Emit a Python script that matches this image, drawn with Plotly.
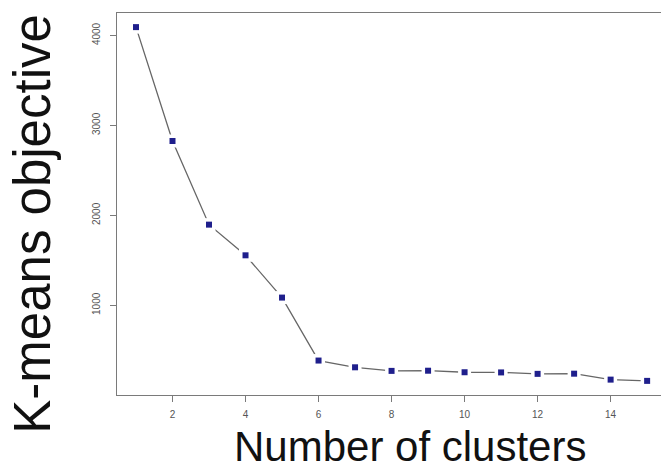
import plotly.graph_objects as go

clusters = [1, 2, 3, 4, 5, 6, 7, 8, 9, 10, 11, 12, 13, 14, 15]
objective = [4093, 2827, 1897, 1556, 1086, 386, 311, 271, 273, 256, 254, 238, 240, 174, 160]
x_ticks = [2, 4, 6, 8, 10, 12, 14]
y_ticks = [1000, 2000, 3000, 4000]

fig = go.Figure()
fig.add_trace(go.Scatter(x=clusters, y=objective, mode="lines",
                         line=dict(color="#666666", width=1.3), hoverinfo="skip"))
fig.add_trace(go.Scatter(x=clusters, y=objective, mode="markers",
                         marker=dict(symbol="square", size=13, color="white"), hoverinfo="skip"))
fig.add_trace(go.Scatter(x=clusters, y=objective, mode="markers",
                         marker=dict(symbol="square", size=6, color="#1f1f8c")))

axis_common = dict(showgrid=False, zeroline=False, showline=True, linecolor="#7a7a7a",
                   linewidth=1, ticks="outside", ticklen=6, tickcolor="#7a7a7a",
                   tickfont=dict(family="Liberation Sans, Arial", size=10, color="#555555"))

fig.update_xaxes(range=[0.48, 15.38], tickvals=x_ticks, mirror=True,
                 ticklabelstandoff=4, **axis_common)
fig.update_yaxes(range=[3, 4250], tickvals=y_ticks, mirror=False, tickangle=-90,
                 ticklabelstandoff=6, **axis_common)

fig.update_layout(
    width=661, height=469, showlegend=False,
    margin=dict(l=117, r=0, t=13, b=74),
    paper_bgcolor="white", plot_bgcolor="white",
    annotations=[
        dict(text="K-means objective", xref="paper", yref="paper",
             x=-0.155, y=(395 - 224) / 382, xanchor="center", yanchor="middle", textangle=-90,
             showarrow=False, font=dict(family="Liberation Sans, Arial", size=51, color="#111111")),
        dict(text="Number of clusters", xref="paper", yref="paper",
             x=(409.5 - 117) / 544, y=-(446 - 395) / 382, xanchor="center", yanchor="middle",
             showarrow=False, font=dict(family="Liberation Sans, Arial", size=42, color="#111111")),
    ],
)

fig.write_html("out.html")
